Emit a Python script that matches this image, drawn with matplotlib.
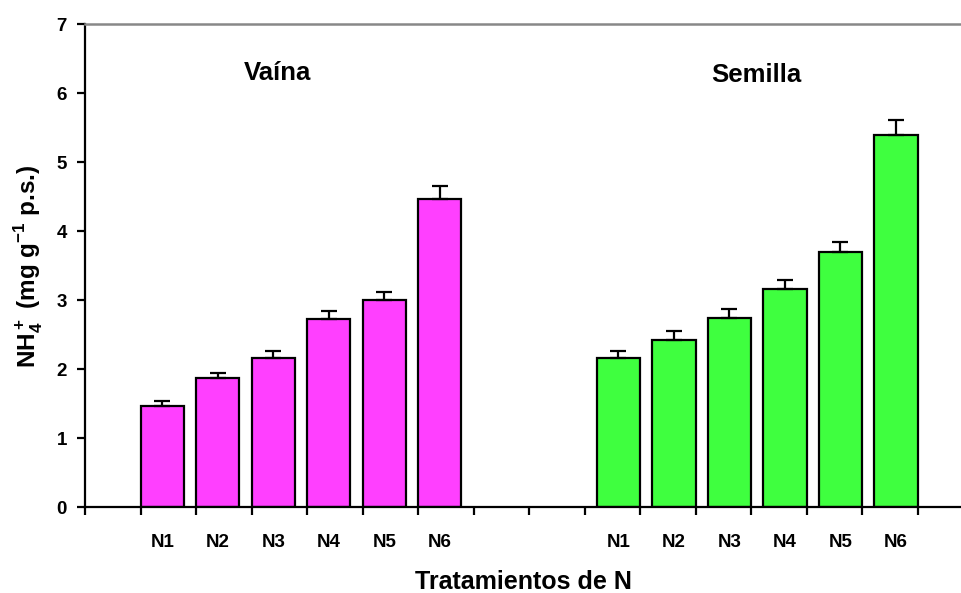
import numpy as np
import matplotlib
matplotlib.use("Agg")
import matplotlib.pyplot as plt

plt.rcParams['font.family'] = 'Liberation Sans'
plt.rcParams['font.weight'] = 'bold'
plt.rcParams['mathtext.fontset'] = 'custom'
plt.rcParams['mathtext.rm'] = 'Liberation Sans:bold'
plt.rcParams['mathtext.bf'] = 'Liberation Sans:bold'

labels = ["N1", "N2", "N3", "N4", "N5", "N6"]
vaina = [1.47, 1.87, 2.17, 2.73, 3.00, 4.47]
vaina_err = [0.07, 0.07, 0.10, 0.12, 0.12, 0.19]
semilla = [2.17, 2.43, 2.75, 3.17, 3.70, 5.39]
semilla_err = [0.10, 0.12, 0.12, 0.13, 0.15, 0.23]

w = 0.78
x_v = np.arange(1, 7)
x_s = np.arange(10, 16)

fig = plt.figure(figsize=(9.62, 5.93), dpi=100)
ax = fig.add_axes([0.0884, 0.1445, 0.9116, 0.8145])

ax.bar(x_v, vaina, width=w, align='edge', color='#FF3FFF',
       edgecolor='black', linewidth=1.6, zorder=2)
ax.bar(x_s, semilla, width=-w, align='edge', color='#3FFF3F',
       edgecolor='black', linewidth=1.6, zorder=2)
ax.errorbar(x_v + w / 2, vaina, yerr=[np.zeros(6), vaina_err], fmt='none',
            ecolor='black', elinewidth=1.6, capsize=5.5, capthick=1.6, zorder=3)
ax.errorbar(x_s - w / 2, semilla, yerr=[np.zeros(6), semilla_err], fmt='none',
            ecolor='black', elinewidth=1.6, capsize=5.5, capthick=1.6, zorder=3)

ax.set_xlim(0, 15.8)
ax.set_ylim(0, 7)
ax.set_yticks(range(8))
ax.set_xticks(range(16))
ax.set_xticklabels([])
ax.set_xticks(list(x_v + w / 2) + list(x_s - w / 2), minor=True)
ax.set_xticklabels(labels + labels, minor=True)
ax.tick_params(axis='x', which='minor', length=0, pad=19, labelsize=13.5)
ax.tick_params(axis='x', which='major', direction='out', length=6, width=1.6)
ax.tick_params(axis='y', direction='out', length=6, width=1.6, labelsize=13.5, pad=7)

for side in ['left', 'bottom']:
    ax.spines[side].set_linewidth(1.6)
ax.spines['right'].set_visible(False)
ax.spines['top'].set_color('#888888')
ax.spines['top'].set_linewidth(1.8)

ax.text(3.46, 6.3, "Vaína", ha='center', va='center', fontsize=18.5, fontweight='bold')
ax.text(12.1, 6.26, "Semilla", ha='center', va='center', fontsize=18.5, fontweight='bold')

ax.set_xlabel("Tratamientos de N", fontsize=18, fontweight='bold', labelpad=14)
ax.set_ylabel(r"NH$_4^+$ (mg g$^{-1}$ p.s.)", fontsize=17.5, fontweight='bold', labelpad=8)

fig.savefig("out.png", dpi=100)
